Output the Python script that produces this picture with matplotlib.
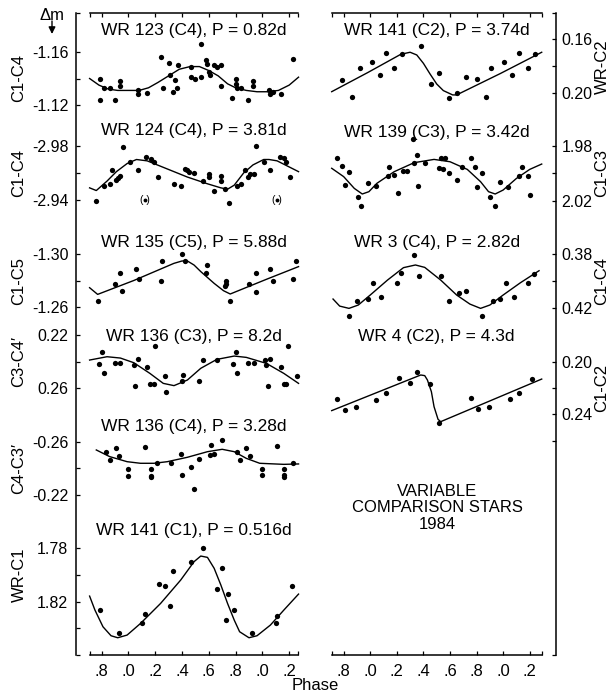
import matplotlib
matplotlib.use('Agg')
import matplotlib.pyplot as plt
from matplotlib.patches import FancyArrowPatch
from matplotlib.transforms import blended_transform_factory

plt.rcParams['font.family'] = ['Liberation Sans', 'DejaVu Sans']

# ---------------- data ----------------
phase_ticks = [0.8, 1.0, 1.2, 1.4, 1.6, 1.8, 2.0, 2.2]
phase_labels = ['.8', '.0', '.2', '.4', '.6', '.8', '.0', '.2']

# WR 123 (C4)
wr123_phase = [0.79, 0.79, 0.82, 0.86, 0.90, 0.94, 0.94, 1.07, 1.07, 1.14, 1.24, 1.26, 1.30, 1.31, 1.33,
               1.35, 1.36, 1.37, 1.47, 1.47, 1.50, 1.54, 1.54, 1.58, 1.59, 1.60, 1.61, 1.64, 1.66, 1.69,
               1.69, 1.77, 1.80, 1.80, 1.81, 1.84, 1.89, 1.93, 1.93, 2.05, 2.06, 2.08, 2.14, 2.23]
wr123_dm = [-1.140, -1.124, -1.133, -1.133, -1.124, -1.138, -1.134, -1.131, -1.128, -1.129, -1.156, -1.133,
            -1.152, -1.143, -1.130, -1.139, -1.133, -1.150, -1.149, -1.141, -1.140, -1.141, -1.166, -1.154,
            -1.151, -1.145, -1.143, -1.150, -1.149, -1.150, -1.134, -1.125, -1.140, -1.136, -1.133, -1.133,
            -1.124, -1.138, -1.134, -1.131, -1.128, -1.130, -1.128, -1.155]
wr123_fit_phase = [0.71, 0.78, 0.85, 0.92, 1.00, 1.08, 1.15, 1.22, 1.30, 1.38, 1.46, 1.53, 1.60, 1.67, 1.74,
                   1.80, 1.88, 1.96, 2.04, 2.12, 2.20, 2.27]
wr123_fit_dm = [-1.140, -1.135, -1.132, -1.131, -1.131, -1.131, -1.133, -1.137, -1.142, -1.147, -1.149,
                -1.149, -1.146, -1.142, -1.136, -1.133, -1.131, -1.130, -1.130, -1.131, -1.135, -1.141]

# WR 124 (C4)
wr124_phase = [0.76, 0.82, 0.86, 0.88, 0.91, 0.92, 0.94, 0.96, 1.01, 1.07, 1.13, 1.17, 1.19, 1.22, 1.34,
               1.39, 1.42, 1.44, 1.45, 1.49, 1.56, 1.60, 1.60, 1.64, 1.69, 1.69, 1.72, 1.75, 1.81, 1.84,
               1.87, 1.89, 1.91, 1.94, 1.95, 2.01, 2.06, 2.13, 2.16, 2.18, 2.21]
wr124_dm = [-2.939, -2.950, -2.952, -2.962, -2.955, -2.956, -2.958, -2.979, -2.968, -2.962, -2.972, -2.970,
            -2.968, -2.957, -2.952, -2.950, -2.963, -2.962, -2.961, -2.960, -2.954, -2.959, -2.957, -2.947,
            -2.958, -2.954, -2.948, -2.938, -2.950, -2.952, -2.962, -2.957, -2.959, -2.959, -2.980, -2.968,
            -2.962, -2.972, -2.971, -2.968, -2.957]
wr124_rej_phase = [1.12, 2.11]
wr124_rej_dm = [-2.940, -2.940]
wr124_fit_phase = [0.71, 0.76, 0.84, 0.91, 0.99, 1.06, 1.14, 1.29, 1.44, 1.59, 1.69, 1.74, 1.79, 1.86, 1.93,
                   2.01, 2.05, 2.11, 2.27]
wr124_fit_dm = [-2.949, -2.947, -2.954, -2.961, -2.967, -2.970, -2.969, -2.963, -2.957, -2.952, -2.949,
                -2.948, -2.951, -2.960, -2.966, -2.970, -2.970, -2.969, -2.961]

# WR 135 (C5)
wr135_phase = [0.77, 0.90, 0.94, 0.95, 1.06, 1.08, 1.24, 1.25, 1.40, 1.42, 1.58, 1.59, 1.72, 1.73, 1.73,
               1.76, 1.90, 1.95, 1.95, 2.06, 2.08, 2.23, 2.25]
wr135_dm = [-1.264, -1.277, -1.286, -1.272, -1.289, -1.281, -1.280, -1.295, -1.300, -1.295, -1.286, -1.292,
            -1.276, -1.280, -1.277, -1.264, -1.277, -1.286, -1.271, -1.289, -1.280, -1.281, -1.295]
wr135_fit_phase = [0.71, 0.77, 1.04, 1.34, 1.40, 1.44, 1.49, 1.54, 1.64, 1.71, 1.76, 2.03, 2.27]
wr135_fit_dm = [-1.2745, -1.2694, -1.2800, -1.2931, -1.2949, -1.2949, -1.2918, -1.2868, -1.2778, -1.2722,
                -1.2697, -1.2809, -1.2906]

# WR 136 (C3)
wr136a_phase = [0.80, 0.78, 0.82, 0.90, 0.94, 1.04, 1.05, 1.07, 1.14, 1.16, 1.19, 1.20, 1.27, 1.28, 1.40,
                1.41, 1.53, 1.56, 1.66, 1.78, 1.80, 1.81, 1.89, 1.94, 2.02, 2.03, 2.04, 2.06, 2.14, 2.16,
                2.18, 2.19, 2.26]
wr136a_dm = [0.2325, 0.2418, 0.2488, 0.2413, 0.2413, 0.2425, 0.2583, 0.2383, 0.2438, 0.2570, 0.2570, 0.2283,
             0.2508, 0.2630, 0.2543, 0.2500, 0.2543, 0.2388, 0.2388, 0.2418, 0.2325, 0.2483, 0.2413, 0.2408,
             0.2388, 0.2425, 0.2583, 0.2383, 0.2438, 0.2570, 0.2570, 0.2283, 0.2508]
wr136a_fit_phase = [0.71, 0.84, 0.94, 1.04, 1.16, 1.26, 1.34, 1.44, 1.54, 1.66, 1.79, 1.88, 2.03, 2.16, 2.27]
wr136a_fit_dm = [0.2388, 0.2363, 0.2373, 0.2408, 0.2488, 0.2563, 0.2580, 0.2538, 0.2450, 0.2383, 0.2358,
                 0.2368, 0.2413, 0.2488, 0.2563]

# WR 136 (C4)
wr136b_phase = [0.83, 0.86, 0.91, 0.93, 1.00, 1.00, 1.12, 1.17, 1.17, 1.17, 1.21, 1.32, 1.39, 1.40, 1.47,
                1.49, 1.53, 1.61, 1.62, 1.64, 1.70, 1.81, 1.83, 1.88, 1.91, 2.00, 2.00, 2.11, 2.16, 2.16,
                2.16, 2.23]
wr136b_dm = [-0.2525, -0.2463, -0.2550, -0.2493, -0.2393, -0.2343, -0.2563, -0.2393, -0.2343, -0.2338,
             -0.2438, -0.2443, -0.2508, -0.2350, -0.2408, -0.2243, -0.2468, -0.2500, -0.2575, -0.2508,
             -0.2613, -0.2525, -0.2463, -0.2550, -0.2493, -0.2393, -0.2350, -0.2570, -0.2393, -0.2350,
             -0.2333, -0.2438]
wr136b_fit_phase = [0.76, 0.86, 0.99, 1.09, 1.19, 1.29, 1.44, 1.59, 1.70, 1.79, 1.88, 1.98, 2.16, 2.27]
wr136b_fit_dm = [-0.2538, -0.2488, -0.2450, -0.2438, -0.2438, -0.2450, -0.2483, -0.2525, -0.2543, -0.2525,
                 -0.2475, -0.2438, -0.2430, -0.2433]

# WR 141 (C1)
wr141a_phase = [0.79, 0.93, 1.10, 1.12, 1.23, 1.27, 1.31, 1.33, 1.47, 1.56, 1.66, 1.70, 1.73, 1.74, 1.79,
                1.92, 2.10, 2.11, 2.22]
wr141a_dm = [1.8263, 1.8433, 1.8358, 1.8295, 1.8070, 1.8080, 1.8233, 1.7968, 1.7905, 1.7795, 1.8108, 1.7945,
             1.8338, 1.8143, 1.8263, 1.8433, 1.8358, 1.8305, 1.8080]
wr141a_fit_phase = [0.71, 0.75, 0.81, 0.87, 0.92, 0.99, 1.09, 1.24, 1.39, 1.49, 1.54, 1.59, 1.64, 1.69,
                    1.74, 1.79, 1.83, 1.90, 1.96, 2.06, 2.16, 2.27]
wr141a_fit_dm = [1.8158, 1.8263, 1.8388, 1.8455, 1.8470, 1.8450, 1.8363, 1.8213, 1.8038, 1.7900, 1.7858,
                 1.7868, 1.7950, 1.8075, 1.8213, 1.8338, 1.8425, 1.8470, 1.8455, 1.8375, 1.8263, 1.8143]

# WR 141 (C2)
wr141b_phase = [0.79, 0.86, 0.92, 1.01, 1.07, 1.12, 1.18, 1.24, 1.38, 1.46, 1.52, 1.59, 1.65, 1.72, 1.80,
                1.87, 1.91, 2.01, 2.07, 2.12, 2.19, 2.24]
wr141b_dm = [0.1901, 0.2030, 0.1815, 0.1765, 0.1864, 0.1704, 0.1815, 0.1711, 0.1647, 0.1933, 0.1852, 0.2037,
             0.2000, 0.1881, 0.1894, 0.2030, 0.1810, 0.1765, 0.1864, 0.1704, 0.1810, 0.1709]
wr141b_fit_phase = [0.71, 0.98, 1.23, 1.30, 1.35, 1.40, 1.45, 1.50, 1.55, 1.62, 1.65, 1.98, 2.29]
wr141b_fit_dm = [0.1988, 0.1847, 0.1711, 0.1696, 0.1716, 0.1778, 0.1857, 0.1931, 0.1980, 0.2012, 0.2012,
                 0.1853, 0.1696]

# WR 139 (C3)
wr139_phase = [0.75, 0.79, 0.81, 0.84, 0.91, 0.93, 0.98, 1.04, 1.13, 1.14, 1.18, 1.21, 1.25, 1.28, 1.32,
               1.33, 1.35, 1.36, 1.41, 1.52, 1.53, 1.55, 1.56, 1.59, 1.65, 1.69, 1.76, 1.79, 1.80, 1.84,
               1.90, 1.94, 1.98, 2.04, 2.12, 2.14, 2.19, 2.20]
wr139_dm = [1.9885, 1.9946, 2.0085, 1.9993, 2.0171, 2.0237, 2.0073, 2.0093, 2.0017, 1.9956, 2.0012, 2.0146,
            1.9983, 1.9983, 1.9751, 1.9927, 1.9866, 2.0090, 1.9922, 1.9959, 1.9885, 1.9971, 1.9890, 1.9995,
            2.0049, 1.9956, 1.9885, 1.9951, 2.0098, 1.9995, 2.0171, 2.0237, 2.0061, 2.0098, 2.0020, 1.9956,
            2.0020, 2.0159]
wr139_fit_phase = [0.71, 0.80, 0.88, 0.94, 0.99, 1.05, 1.18, 1.33, 1.48, 1.60, 1.73, 1.83, 1.89, 1.94, 2.00,
                   2.10, 2.20, 2.29]
wr139_fit_dm = [1.9963, 2.0024, 2.0110, 2.0151, 2.0134, 2.0073, 1.9988, 1.9922, 1.9898, 1.9915, 1.9971,
                2.0061, 2.0134, 2.0151, 2.0122, 2.0037, 1.9971, 1.9932]

# WR 3 (C4)
wr3_phase = [0.84, 0.90, 0.98, 1.02, 1.08, 1.20, 1.23, 1.33, 1.37, 1.53, 1.59, 1.67, 1.72, 1.84, 1.92,
             1.98, 2.02, 2.08, 2.19, 2.23]
wr3_dm = [0.4260, 0.4148, 0.4135, 0.4013, 0.4118, 0.4013, 0.3943, 0.3805, 0.3963, 0.3963, 0.4150, 0.4088,
          0.4075, 0.4260, 0.4148, 0.4135, 0.4013, 0.4118, 0.4013, 0.3950]
wr3_fit_phase = [0.72, 0.77, 0.84, 0.91, 1.00, 1.13, 1.25, 1.34, 1.41, 1.53, 1.65, 1.75, 1.83, 1.90, 2.00,
                 2.13, 2.27]
wr3_fit_dm = [0.4135, 0.4188, 0.4205, 0.4180, 0.4105, 0.3993, 0.3900, 0.3880, 0.3898, 0.3993, 0.4105,
              0.4173, 0.4205, 0.4180, 0.4105, 0.4013, 0.3923]

# WR 4 (C2)
wr4_phase = [0.75, 0.81, 0.89, 1.04, 1.12, 1.22, 1.30, 1.35, 1.45, 1.52, 1.76, 1.81, 1.89, 2.05, 2.12, 2.22]
wr4_dm = [0.2286, 0.2367, 0.2347, 0.2291, 0.2241, 0.2122, 0.2160, 0.2081, 0.2172, 0.2463, 0.2278, 0.2359,
          0.2342, 0.2286, 0.2241, 0.2132]
wr4_fit_phase = [0.71, 1.38, 1.41, 1.43, 1.46, 1.48, 1.51, 1.53, 2.29]
wr4_fit_dm = [0.2372, 0.2101, 0.2106, 0.2139, 0.2228, 0.2342, 0.2438, 0.2456, 0.2132]

# ---------------- layout ----------------
W, H = 610, 694
fig = plt.figure(figsize=(W / 100, H / 100), dpi=100)
fig.patch.set_facecolor('white')


def fx(px):
    return px / W


def fy(py):
    return 1 - py / H


PX2PT = 0.72
TOP, BOT = 13, 655
cols = [dict(x0=90, x1=298, xlim=(0.713, 2.266), side='left', spine=76, ylx=19),
        dict(x0=331.7, x1=541.7, xlim=(0.71, 2.29), side='right', spine=556, ylx=602)]

LW_AX = 1.1
TICK_LEN = 3.2
TICK_W = 0.9

for c in cols:
    ax = fig.add_axes([fx(c['x0']), fy(BOT), (c['x1'] - c['x0']) / W, (BOT - TOP) / H])
    ax.set_xlim(c['xlim'])
    ax.set_ylim(0, 1)
    ax.patch.set_visible(False)
    off = (c['x0'] - c['spine']) if c['side'] == 'left' else (c['spine'] - c['x1'])
    for s in ['left', 'right']:
        ax.spines[s].set_visible(s == c['side'])
    ax.spines[c['side']].set_position(('outward', off * PX2PT))
    for s in ax.spines.values():
        s.set_linewidth(LW_AX)
    ax.set_xticks(phase_ticks, phase_labels)
    ax.set_xticks(list(c['xlim']), minor=True)
    ax.tick_params(axis='x', which='both', top=True, bottom=True, direction='in',
                   length=TICK_LEN, width=TICK_W, labelsize=12, pad=6.5)
    ax.yaxis.set_ticks_position(c['side'])
    ax.set_yticks([0, 1])
    ax.tick_params(axis='y', direction='in', length=TICK_LEN, width=TICK_W,
                   labelleft=False, labelright=False)

panels = [
    dict(col=0, band=(13, 118), ref=((-1.16, 52), (-1.12, 105)), ticks=[-1.16, -1.14, -1.12],
         labels=['-1.16', '', '-1.12'], title='WR 123 (C4), P = 0.82d', ty=30, ylabel='C1-C4',
         ph=wr123_phase, dm=wr123_dm, fph=wr123_fit_phase, fdm=wr123_fit_dm),
    dict(col=0, band=(118, 225), ref=((-2.98, 146), (-2.94, 200)), ticks=[-2.98, -2.96, -2.94],
         labels=['-2.98', '', '-2.94'], title='WR 124 (C4), P = 3.81d', ty=131, ylabel='C1-C4',
         ph=wr124_phase, dm=wr124_dm, fph=wr124_fit_phase, fdm=wr124_fit_dm),
    dict(col=0, band=(225, 320), ref=((-1.30, 254.3), (-1.26, 306.7)), ticks=[-1.30, -1.28, -1.26],
         labels=['-1.30', '', '-1.26'], title='WR 135 (C5), P = 5.88d', ty=243, ylabel='C1-C5',
         ph=wr135_phase, dm=wr135_dm, fph=wr135_fit_phase, fdm=wr135_fit_dm),
    dict(col=0, band=(320, 410), ref=((0.22, 335), (0.26, 388.3)), ticks=[0.22, 0.24, 0.26],
         labels=['0.22', '', '0.26'], title='WR 136 (C3), P = 8.2d', ty=336, ylabel='C3-C4\u2032',
         ph=wr136a_phase, dm=wr136a_dm, fph=wr136a_fit_phase, fdm=wr136a_fit_dm),
    dict(col=0, band=(410, 515), ref=((-0.26, 441.7), (-0.22, 495)), ticks=[-0.26, -0.24, -0.22],
         labels=['-0.26', '', '-0.22'], title='WR 136 (C4), P = 3.28d', ty=427, ylabel='C4-C3\u2032',
         ph=wr136b_phase, dm=wr136b_dm, fph=wr136b_fit_phase, fdm=wr136b_fit_dm),
    dict(col=0, band=(515, 650), ref=((1.78, 548.3), (1.82, 601.7)), ticks=[1.78, 1.80, 1.82, 1.84],
         labels=['1.78', '', '1.82', ''], title='WR 141 (C1), P = 0.516d', ty=531, ylabel='WR-C1',
         ph=wr141a_phase, dm=wr141a_dm, fph=wr141a_fit_phase, fdm=wr141a_fit_dm),
    dict(col=1, band=(13, 118), ref=((0.16, 39.3), (0.20, 93.3)), ticks=[0.16, 0.18, 0.20],
         labels=['0.16', '', '0.20'], title='WR 141 (C2), P = 3.74d', ty=30, ylabel='WR-C2',
         ph=wr141b_phase, dm=wr141b_dm, fph=wr141b_fit_phase, fdm=wr141b_fit_dm),
    dict(col=1, band=(118, 225), ref=((1.98, 146), (2.02, 200.7)), ticks=[1.98, 2.00, 2.02],
         labels=['1.98', '', '2.02'], title='WR 139 (C3), P = 3.42d', ty=132, ylabel='C1-C3',
         ph=wr139_phase, dm=wr139_dm, fph=wr139_fit_phase, fdm=wr139_fit_dm),
    dict(col=1, band=(225, 320), ref=((0.38, 254.3), (0.42, 307.7)), ticks=[0.38, 0.40, 0.42],
         labels=['0.38', '', '0.42'], title='WR 3 (C4), P = 2.82d', ty=243, ylabel='C1-C4',
         ph=wr3_phase, dm=wr3_dm, fph=wr3_fit_phase, fdm=wr3_fit_dm),
    dict(col=1, band=(320, 460), ref=((0.20, 361.7), (0.24, 414.3)), ticks=[0.20, 0.22, 0.24, 0.26],
         labels=['0.20', '', '0.24', ''], title='WR 4 (C2), P = 4.3d', ty=336, ylabel='C1-C2',
         ph=wr4_phase, dm=wr4_dm, fph=wr4_fit_phase, fdm=wr4_fit_dm),
]

MS = 3.8
axes = []
for p in panels:
    c = cols[p['col']]
    b0, b1 = p['band']
    (va, ya), (vb, yb) = p['ref']

    def v(y, va=va, ya=ya, vb=vb, yb=yb):
        return va + (y - ya) * (vb - va) / (yb - ya)

    ax = fig.add_axes([fx(c['x0']), fy(b1), (c['x1'] - c['x0']) / W, (b1 - b0) / H])
    ax.set_xlim(c['xlim'])
    ax.set_ylim(v(b1), v(b0))
    ax.patch.set_visible(False)
    for s in ax.spines.values():
        s.set_visible(False)
    off = (c['x0'] - c['spine']) if c['side'] == 'left' else (c['spine'] - c['x1'])
    ax.spines[c['side']].set_position(('outward', off * PX2PT))
    ax.set_xticks([])
    ax.yaxis.set_ticks_position(c['side'])
    ax.set_yticks(p['ticks'], p['labels'])
    ax.tick_params(axis='y', direction='in', length=TICK_LEN, width=TICK_W, labelsize=11.5,
                   pad=5.5 if c['side'] == 'left' else 4.0)
    ax.plot(p['fph'], p['fdm'], '-', color='black', lw=1.0, clip_on=False, solid_joinstyle='round')
    ax.plot(p['ph'], p['dm'], 'o', color='black', ms=MS, mew=0, clip_on=False)
    xc = fx((c['x0'] + c['x1']) / 2)
    fig.text(xc, fy(p['ty']), p['title'], ha='center', va='center', fontsize=12.5)
    tr = blended_transform_factory(fig.transFigure, ax.transData)
    ax.text(fx(c['ylx']), p['ticks'][1], p['ylabel'], transform=tr, rotation=90,
            ha='center', va='center', fontsize=12)
    axes.append(ax)

# bracketed (rejected) points in WR 124
ax124 = axes[1]
ax124.plot(wr124_rej_phase, wr124_rej_dm, 'o', color='black', ms=2.8, mew=0, clip_on=False)
for xph, ydm in zip(wr124_rej_phase, wr124_rej_dm):
    ax124.text(xph, ydm, '( )', ha='center', va='center', fontsize=7.5)

# extra texts
fig.text(fx(52), fy(15), '\u0394m', ha='center', va='center', fontsize=12)
fig.add_artist(FancyArrowPatch(
    (fx(52), fy(21)), (fx(52), fy(34)), transform=fig.transFigure,
    arrowstyle='-|>,head_length=4,head_width=2', lw=1.0, color='black',
    mutation_scale=1, shrinkA=0, shrinkB=0))
fig.text(fx(315), fy(686), 'Phase', ha='center', va='center', fontsize=12)
fig.text(fx(437), fy(508), 'VARIABLE\nCOMPARISON STARS\n1984', ha='center', va='center',
         fontsize=12, linespacing=1.15, multialignment='center')

fig.savefig('out.png', dpi=100, facecolor='white')
